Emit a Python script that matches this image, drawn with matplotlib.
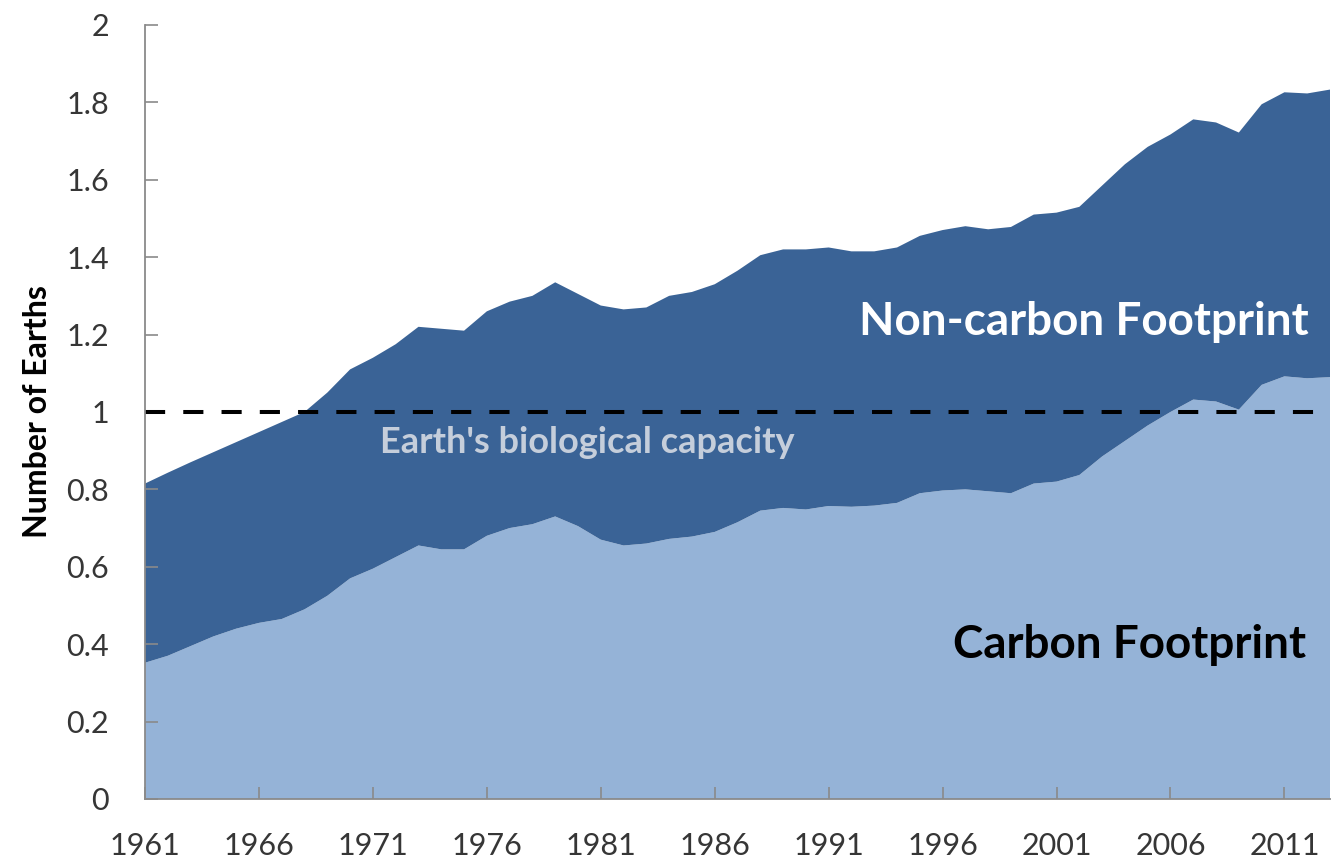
import matplotlib
matplotlib.use("Agg")
import matplotlib.pyplot as plt
import numpy as np

years = list(range(1961, 2014))
total_footprint = [0.815, 0.843, 0.87, 0.896, 0.922, 0.948, 0.974, 1.00, 1.05, 1.11,
                   1.14, 1.175, 1.22, 1.215, 1.21, 1.26, 1.285, 1.30, 1.335, 1.305,
                   1.275, 1.265, 1.27, 1.30, 1.31, 1.33, 1.365, 1.405, 1.42, 1.42,
                   1.425, 1.415, 1.415, 1.425, 1.455, 1.47, 1.48, 1.472, 1.478, 1.51,
                   1.515, 1.53, 1.585, 1.64, 1.685, 1.717, 1.756, 1.748, 1.722, 1.795,
                   1.826, 1.823, 1.833]
carbon_footprint = [0.352, 0.37, 0.395, 0.42, 0.44, 0.455, 0.465, 0.49, 0.525, 0.57,
                    0.595, 0.625, 0.655, 0.645, 0.645, 0.68, 0.70, 0.71, 0.73, 0.705,
                    0.67, 0.655, 0.66, 0.672, 0.678, 0.69, 0.715, 0.745, 0.752, 0.748,
                    0.757, 0.755, 0.758, 0.765, 0.79, 0.797, 0.80, 0.795, 0.79, 0.815,
                    0.82, 0.837, 0.885, 0.925, 0.965, 1.00, 1.032, 1.027, 1.006, 1.07,
                    1.092, 1.087, 1.09]
non_carbon_footprint = [t - c for t, c in zip(total_footprint, carbon_footprint)]
biocapacity = 1.0

x_ticks = list(range(1961, 2012, 5))
y_ticks = [0, 0.2, 0.4, 0.6, 0.8, 1, 1.2, 1.4, 1.6, 1.8, 2]
y_tick_labels = ["0", "0.2", "0.4", "0.6", "0.8", "1", "1.2", "1.4", "1.6", "1.8", "2"]

plt.rcParams['font.family'] = ['Lato', 'DejaVu Sans']

fig = plt.figure(figsize=(13.34, 8.63), dpi=100)
ax = fig.add_axes([0.1087, 0.0742, 0.8883, 0.8969])

light = "#95B3D7"
dark = "#3A6396"
ax.stackplot(years, carbon_footprint, non_carbon_footprint, colors=[light, dark],
             linewidth=0, zorder=1)
ln, = ax.plot([years[0], years[-1]], [biocapacity, biocapacity], color="black",
              linewidth=2.9, zorder=3)
ln.set_dashes((5, 4.5))

ax.set_xlim(years[0], years[-1])
ax.set_ylim(0, 2)
ax.set_xticks(x_ticks)
ax.set_xticklabels([str(y) for y in x_ticks])
ax.set_yticks(y_ticks)
ax.set_yticklabels(y_tick_labels)

for s in ["top", "right"]:
    ax.spines[s].set_visible(False)
for s in ["left", "bottom"]:
    ax.spines[s].set_color("#8a8a8a")
    ax.spines[s].set_linewidth(1.3)
    ax.spines[s].set_zorder(4)
ax.tick_params(axis="both", direction="in", length=9, width=1.2, color="#8a8a8a",
               labelsize=22, labelcolor="#363636")
ax.tick_params(axis="y", pad=26)
ax.tick_params(axis="x", pad=24)
ax.set_axisbelow(False)

ax.set_ylabel("Number of Earths", fontsize=23, fontweight="bold", labelpad=10)

ax.text(2002.2, 1.233, "Non-carbon Footprint", color="white", fontsize=33,
        fontweight="bold", ha="center", va="center", zorder=5)
ax.text(2004.2, 0.398, "Carbon Footprint", color="black", fontsize=33,
        fontweight="bold", ha="center", va="center", zorder=5)
ax.text(1980.4, 0.92, "Earth's biological capacity", color="#C5CEDB", fontsize=26,
        fontweight="bold", ha="center", va="center", zorder=5)

fig.savefig("out.png", dpi=100)
